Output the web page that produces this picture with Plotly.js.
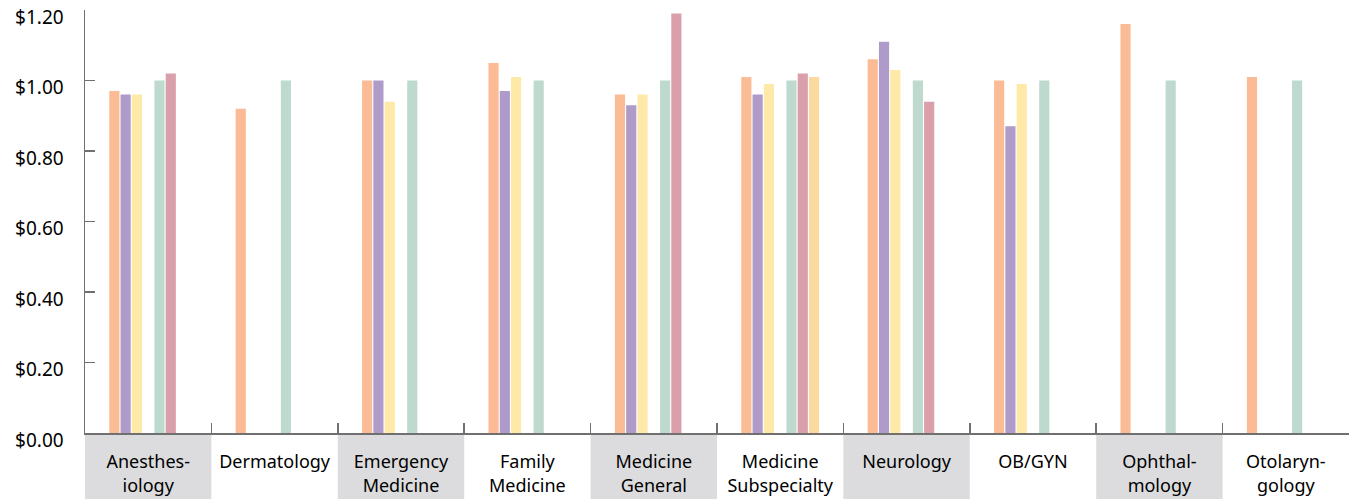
<!DOCTYPE html>
<html>
<head>
<meta charset="utf-8">
<script src="https://cdn.plot.ly/plotly-3.0.1.min.js"></script>
<style>html,body{margin:0;padding:0;background:#fff;}#chart{width:1349px;height:499px;}</style>
</head>
<body>
<div id="chart"></div>
<script>
const categories = ["Anesthes-<br>iology", "Dermatology", "Emergency<br>Medicine", "Family<br>Medicine", "Medicine<br>General", "Medicine<br>Subspecialty", "Neurology", "OB/GYN", "Ophthal-<br>mology", "Otolaryn-<br>gology"];
const seriesOrange = [0.97, 0.92, 1.00, 1.05, 0.96, 1.01, 1.06, 1.00, 1.16, 1.01];
const seriesPurple = [0.96, null, 1.00, 0.97, 0.93, 0.96, 1.11, 0.87, null, null];
const seriesYellow = [0.96, null, 0.94, 1.01, 0.96, 0.99, 1.03, 0.99, null, null];
const seriesEmpty  = [null, null, null, null, null, null, null, null, null, null];
const seriesGreen  = [1.00, 1.00, 1.00, 1.00, 1.00, 1.00, 1.00, 1.00, 1.00, 1.00];
const seriesPink   = [1.02, null, null, null, 1.19, 1.02, 0.94, null, null, null];
const seriesPeach  = [null, null, null, null, null, 1.01, null, null, null, null];
const yTickVals = [0, 0.2, 0.4, 0.6, 0.8, 1.0, 1.2];
const yTickText = ["$0.00", "$0.20", "$0.40", "$0.60", "$0.80", "$1.00", "$1.20"];

const series = [
  {y: seriesOrange, color: "#FBBB94"},
  {y: seriesPurple, color: "#AE9BC9"},
  {y: seriesYellow, color: "#FEE9A8"},
  {y: seriesEmpty,  color: "#FFFFFF"},
  {y: seriesGreen,  color: "#BED9CE"},
  {y: seriesPink,   color: "#D99FAA"},
  {y: seriesPeach,  color: "#FCD9A0"}
];
const traces = series.map(s => ({
  type: "bar", x: categories, y: s.y,
  marker: {color: s.color, line: {width: 0}},
  hoverinfo: "skip"
}));

const shapes = [];
for (let i = 0; i < categories.length; i += 2) {
  shapes.push({type: "rect", xref: "x", yref: "paper", x0: i - 0.5, x1: i + 0.5, y0: -0.16, y1: -0.005,
    fillcolor: "#DCDCDE", line: {width: 0}, layer: "below"});
}

const layout = {
  width: 1349, height: 499,
  margin: {l: 85, r: 0, t: 10, b: 66},
  paper_bgcolor: "#fff", plot_bgcolor: "rgba(0,0,0,0)",
  showlegend: false,
  barmode: "group", bargap: 0.375, bargroupgap: 0.1,
  font: {family: "Noto Sans, Open Sans, sans-serif", color: "#000"},
  xaxis: {
    type: "category", range: [-0.5, 9.5],
    showline: true, linecolor: "#707070", linewidth: 1.5,
    ticks: "inside", tickson: "boundaries", ticklen: 10, tickcolor: "#707070", tickwidth: 1.5,
    tickfont: {size: 18, color: "#000"}, ticklabelstandoff: 12,
    showgrid: false, zeroline: false, fixedrange: true
  },
  yaxis: {
    range: [0, 1.2], tickvals: yTickVals, ticktext: yTickText,
    showline: true, linecolor: "#707070", linewidth: 1.5,
    ticks: "inside", ticklen: 10, tickcolor: "#707070", tickwidth: 1.5,
    tickfont: {size: 19, color: "#000"}, ticklabelstandoff: 16, ticklabelshift: 7,
    showgrid: false, zeroline: false, fixedrange: true
  },
  shapes: shapes
};
Plotly.newPlot("chart", traces, layout, {displayModeBar: false, staticPlot: true});
</script>
</body>
</html>
